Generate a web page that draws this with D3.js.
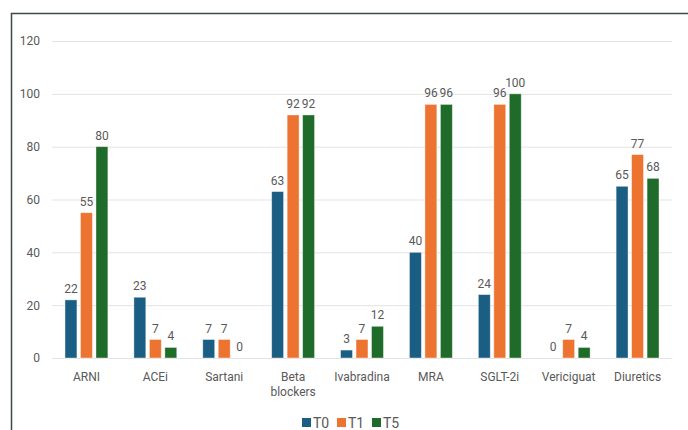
<!DOCTYPE html>
<html>
<head>
<meta charset="utf-8">
<script src="https://cdn.jsdelivr.net/npm/d3@7"></script>
<style>
  html, body { margin: 0; padding: 0; background: #ffffff; }
  svg { display: block; }
  text { font-family: Roboto, "Liberation Sans", sans-serif; fill: #595959; }
</style>
</head>
<body>
<svg id="chart" width="688" height="430"></svg>
<script>
// Drug classes on the x axis
const categories = ["ARNI", "ACEi", "Sartani", "Beta blockers", "Ivabradina", "MRA", "SGLT-2i", "Vericiguat", "Diuretics"];
// Percentages at each time point
const seriesNames = ["T0", "T1", "T5"];
const t0 = [22, 23, 7, 63, 3, 40, 24, 0, 65];
const t1 = [55, 7, 7, 92, 7, 96, 96, 7, 77];
const t5 = [80, 4, 0, 92, 12, 96, 100, 4, 68];
const yTicks = [0, 20, 40, 60, 80, 100, 120];
const colors = ["#1b5e84", "#ed7331", "#1e6b2a"];

const series = [t0, t1, t5];
const svg = d3.select("#chart");

// Outer frame
svg.append("rect")
  .attr("x", 11.5).attr("y", 13.5)
  .attr("width", 700).attr("height", 440)
  .attr("fill", "none")
  .attr("stroke", "#3d4a45")
  .attr("stroke-width", 1.5);

const plotLeft = 52, plotRight = 672, plotTop = 41, plotBottom = 358;

const x = d3.scaleBand().domain(categories).range([plotLeft, plotRight]).paddingInner(0).paddingOuter(0);
const x1 = d3.scaleBand().domain(seriesNames).range([0, x.bandwidth()]).paddingInner(0.23).paddingOuter(0.84);
const y = d3.scaleLinear().domain([0, 120]).range([plotBottom, plotTop]);

// Gridlines
svg.append("g")
  .selectAll("line")
  .data(yTicks)
  .join("line")
  .attr("x1", plotLeft).attr("x2", plotRight)
  .attr("y1", d => y(d) + 0.5).attr("y2", d => y(d) + 0.5)
  .attr("stroke", "#e3e3e3")
  .attr("stroke-width", 1);

// Y axis labels
const yAxis = d3.axisLeft(y).tickValues(yTicks).tickSize(0).tickPadding(0);
const gy = svg.append("g").attr("transform", `translate(${plotLeft - 12},0)`).call(yAxis);
gy.select(".domain").remove();
gy.selectAll("text")
  .attr("font-size", 12)
  .attr("fill", "#595959")
  .style("font-family", "Roboto, 'Liberation Sans', sans-serif");

// Bars
const groups = svg.append("g")
  .selectAll("g")
  .data(categories)
  .join("g")
  .attr("transform", d => `translate(${x(d)},0)`);

groups.selectAll("rect")
  .data((d, i) => seriesNames.map((s, j) => ({ s, v: series[j][i], j })))
  .join("rect")
  .attr("x", d => x1(d.s))
  .attr("y", d => y(d.v))
  .attr("width", x1.bandwidth())
  .attr("height", d => y(0) - y(d.v))
  .attr("fill", d => colors[d.j])
  .attr("stroke", "#ffffff")
  .attr("stroke-opacity", 0.5)
  .attr("stroke-width", 0.8);

// Value labels
groups.selectAll("text.val")
  .data((d, i) => seriesNames.map((s, j) => ({ s, v: series[j][i], j })))
  .join("text")
  .attr("class", "val")
  .attr("x", d => x1(d.s) + x1.bandwidth() / 2)
  .attr("y", d => y(d.v) - 7)
  .attr("text-anchor", "middle")
  .attr("font-size", 12)
  .text(d => d.v);

// Category labels (wrapped on spaces)
const xAxis = svg.append("g");
categories.forEach(c => {
  const words = c.split(" ");
  const t = xAxis.append("text")
    .attr("x", x(c) + x.bandwidth() / 2)
    .attr("y", 381)
    .attr("text-anchor", "middle")
    .attr("font-size", 12);
  words.forEach((w, i) => {
    t.append("tspan")
      .attr("x", x(c) + x.bandwidth() / 2)
      .attr("dy", i === 0 ? 0 : 15)
      .text(w);
  });
});

// Legend
const legendX = [302, 337, 372];
const legend = svg.append("g");
seriesNames.forEach((s, i) => {
  legend.append("rect")
    .attr("x", legendX[i]).attr("y", 418)
    .attr("width", 9).attr("height", 9)
    .attr("fill", colors[i]);
  legend.append("text")
    .attr("x", legendX[i] + 11).attr("y", 428)
    .attr("font-size", 14)
    .attr("fill", "#404040")
    .text(s);
});
</script>
</body>
</html>
